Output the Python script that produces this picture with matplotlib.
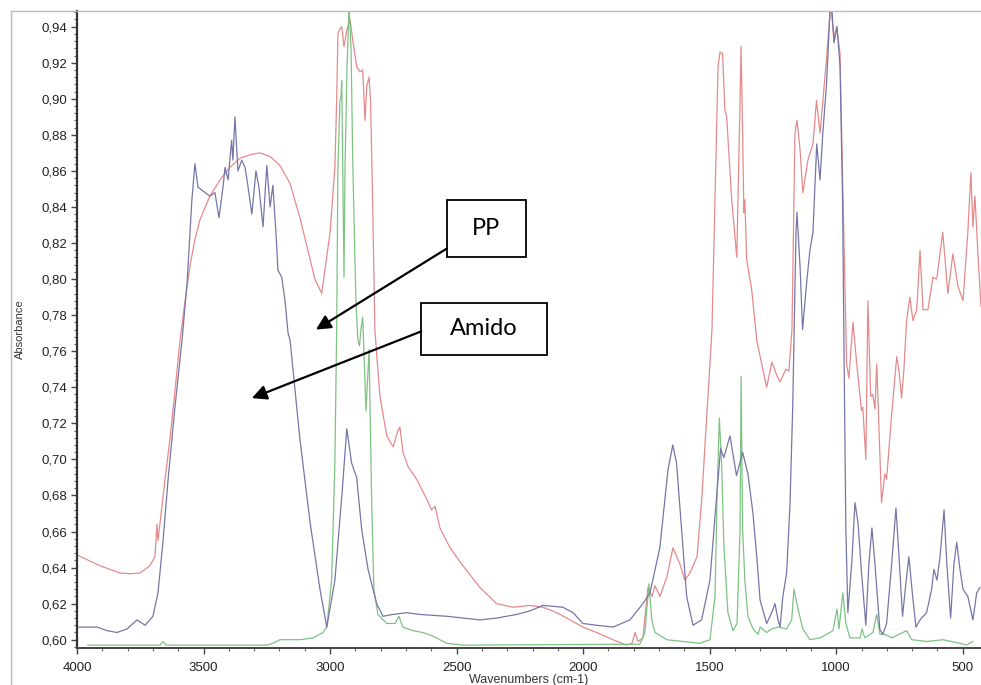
#!/usr/bin/env python3
"""FTIR absorbance spectra (starch / PP), redrawn from a screenshot of the
spectrometer software. Writes out.png."""

import matplotlib.pyplot as plt
from matplotlib.lines import Line2D
from matplotlib.patches import Rectangle
from matplotlib.ticker import FuncFormatter, MultipleLocator

# red trace
red_wn = [4000, 3909, 3830, 3791, 3751, 3712, 3692, 3684, 3680, 3652, 3633,
          3613, 3593, 3573, 3554, 3534, 3514, 3475, 3435, 3396, 3356, 3316,
          3277, 3237, 3198, 3158, 3119, 3079, 3060, 3033, 3000, 2981, 2974,
          2969, 2961, 2954, 2945, 2934, 2921, 2909, 2895, 2882, 2871, 2862,
          2855, 2846, 2840, 2832, 2823, 2803, 2776, 2751, 2732, 2724, 2712,
          2692, 2658, 2618, 2599, 2585, 2566, 2526, 2475, 2408, 2342, 2277,
          2210, 2159, 2105, 2052, 2001, 1947, 1882, 1828, 1807, 1795, 1783,
          1764, 1744, 1728, 1716, 1697, 1669, 1645, 1618, 1598, 1578, 1550,
          1531, 1511, 1491, 1479, 1467, 1459, 1449, 1440, 1433, 1413, 1393,
          1380, 1376, 1370, 1365, 1361, 1354, 1334, 1314, 1275, 1254, 1236,
          1222, 1199, 1187, 1175, 1163, 1155, 1143, 1132, 1112, 1092, 1078,
          1064, 1053, 1038, 1022, 1009, 998, 985, 973, 959, 950, 934, 919,
          900, 895, 883, 875, 864, 856, 847, 840, 831, 821, 808, 801, 781,
          761, 752, 742, 733, 722, 709, 697, 682, 669, 657, 638, 618, 603,
          579, 559, 539, 519, 499, 480, 468, 460, 452, 440, 428]
red_abs = [0.647, 0.641, 0.637, 0.6366, 0.637, 0.641, 0.646, 0.664, 0.655,
           0.689, 0.711, 0.738, 0.766, 0.788, 0.807, 0.822, 0.833, 0.846,
           0.855, 0.862, 0.867, 0.869, 0.870, 0.868, 0.863, 0.853, 0.834,
           0.811, 0.800, 0.792, 0.826, 0.862, 0.899, 0.936, 0.939, 0.940,
           0.929, 0.938, 0.944, 0.931, 0.918, 0.915, 0.916, 0.888, 0.907,
           0.912, 0.899, 0.844, 0.772, 0.735, 0.713, 0.707, 0.716, 0.718,
           0.704, 0.696, 0.689, 0.678, 0.672, 0.674, 0.662, 0.651, 0.641,
           0.629, 0.620, 0.618, 0.619, 0.618, 0.615, 0.611, 0.607, 0.604,
           0.600, 0.597, 0.598, 0.604, 0.599, 0.601, 0.629, 0.624, 0.630,
           0.624, 0.635, 0.651, 0.642, 0.633, 0.637, 0.646, 0.679, 0.725,
           0.772, 0.844, 0.918, 0.926, 0.925, 0.894, 0.890, 0.844, 0.812,
           0.899, 0.929, 0.881, 0.837, 0.844, 0.811, 0.794, 0.766, 0.740,
           0.754, 0.747, 0.743, 0.750, 0.749, 0.772, 0.881, 0.888, 0.872,
           0.848, 0.866, 0.875, 0.899, 0.881, 0.899, 0.923, 0.952, 0.934,
           0.940, 0.925, 0.844, 0.753, 0.745, 0.776, 0.753, 0.727, 0.729,
           0.700, 0.788, 0.735, 0.736, 0.728, 0.753, 0.716, 0.676, 0.692,
           0.689, 0.725, 0.757, 0.749, 0.734, 0.749, 0.777, 0.790, 0.777,
           0.783, 0.816, 0.783, 0.783, 0.801, 0.800, 0.826, 0.792, 0.814,
           0.796, 0.788, 0.826, 0.859, 0.829, 0.846, 0.814, 0.785]

# blue trace
blue_wn = [4000, 3961, 3921, 3881, 3842, 3802, 3763, 3731, 3700, 3680, 3660,
           3640, 3613, 3585, 3565, 3546, 3534, 3522, 3494, 3475, 3455, 3439,
           3423, 3415, 3403, 3389, 3384, 3376, 3364, 3349, 3336, 3324, 3309,
           3293, 3281, 3265, 3250, 3237, 3226, 3214, 3206, 3191, 3178, 3166,
           3158, 3119, 3079, 3040, 3013, 2981, 2954, 2934, 2915, 2895, 2875,
           2850, 2816, 2791, 2752, 2697, 2645, 2539, 2408, 2342, 2263, 2210,
           2159, 2080, 2040, 2001, 1947, 1882, 1815, 1764, 1736, 1697, 1665,
           1646, 1631, 1611, 1591, 1566, 1532, 1499, 1473, 1457, 1444, 1420,
           1394, 1370, 1349, 1329, 1314, 1301, 1275, 1255, 1242, 1230, 1222,
           1211, 1196, 1183, 1172, 1167, 1159, 1155, 1143, 1133, 1117, 1104,
           1092, 1077, 1064, 1053, 1038, 1025, 1018, 1009, 997, 985, 975, 970,
           962, 954, 939, 926, 914, 900, 883, 871, 859, 847, 828, 816, 801,
           781, 764, 752, 738, 725, 713, 698, 685, 669, 643, 623, 614, 602,
           590, 574, 563, 548, 535, 524, 511, 499, 480, 460, 445, 432]
blue_abs = [0.607, 0.607, 0.607, 0.605, 0.604, 0.606, 0.611, 0.608, 0.613,
            0.626, 0.655, 0.689, 0.729, 0.766, 0.798, 0.844, 0.864, 0.851,
            0.848, 0.846, 0.848, 0.834, 0.851, 0.862, 0.855, 0.877, 0.866,
            0.890, 0.860, 0.866, 0.862, 0.851, 0.836, 0.860, 0.851, 0.829,
            0.863, 0.840, 0.852, 0.826, 0.805, 0.801, 0.788, 0.770, 0.766,
            0.711, 0.665, 0.628, 0.607, 0.633, 0.679, 0.717, 0.698, 0.690,
            0.661, 0.639, 0.620, 0.613, 0.614, 0.615, 0.614, 0.613, 0.611,
            0.612, 0.614, 0.616, 0.619, 0.618, 0.615, 0.609, 0.608, 0.607,
            0.611, 0.620, 0.626, 0.651, 0.694, 0.708, 0.698, 0.661, 0.624,
            0.608, 0.611, 0.633, 0.679, 0.706, 0.701, 0.713, 0.691, 0.704,
            0.692, 0.670, 0.646, 0.622, 0.609, 0.615, 0.620, 0.611, 0.607,
            0.624, 0.637, 0.674, 0.729, 0.766, 0.826, 0.837, 0.807, 0.772,
            0.798, 0.816, 0.826, 0.875, 0.855, 0.881, 0.909, 0.948, 0.952,
            0.931, 0.940, 0.918, 0.844, 0.770, 0.661, 0.615, 0.642, 0.676,
            0.665, 0.637, 0.608, 0.642, 0.662, 0.642, 0.606, 0.603, 0.609,
            0.642, 0.673, 0.646, 0.613, 0.631, 0.646, 0.624, 0.607, 0.611,
            0.615, 0.628, 0.639, 0.633, 0.646, 0.672, 0.642, 0.612, 0.642,
            0.654, 0.639, 0.628, 0.624, 0.611, 0.626, 0.629]

# green trace
green_wn = [3957, 3751, 3672, 3660, 3648, 3384, 3249, 3226, 3198, 3119, 3067,
            3028, 3013, 2994, 2981, 2974, 2969, 2961, 2957, 2954, 2950, 2945,
            2941, 2933, 2925, 2917, 2910, 2898, 2890, 2884, 2878, 2871, 2858,
            2846, 2836, 2827, 2811, 2776, 2743, 2728, 2713, 2673, 2633, 2594,
            2539, 2475, 1776, 1756, 1740, 1729, 1716, 1669, 1539, 1499, 1479,
            1471, 1462, 1453, 1444, 1428, 1408, 1392, 1380, 1376, 1370, 1361,
            1349, 1329, 1309, 1301, 1275, 1255, 1230, 1196, 1176, 1167, 1151,
            1132, 1104, 1064, 1013, 997, 989, 974, 962, 946, 906, 898, 887,
            855, 840, 827, 808, 781, 722, 702, 643, 578, 511, 485, 460]
green_abs = [0.597, 0.597, 0.597, 0.599, 0.597, 0.597, 0.597, 0.598, 0.600,
             0.600, 0.601, 0.604, 0.607, 0.633, 0.698, 0.772, 0.862, 0.899,
             0.901, 0.910, 0.862, 0.801, 0.862, 0.918, 0.952, 0.927, 0.862,
             0.788, 0.766, 0.763, 0.772, 0.779, 0.727, 0.761, 0.679, 0.628,
             0.614, 0.609, 0.609, 0.613, 0.607, 0.605, 0.604, 0.602, 0.598,
             0.597, 0.5975, 0.604, 0.631, 0.611, 0.604, 0.600, 0.598, 0.600,
             0.624, 0.679, 0.723, 0.698, 0.652, 0.615, 0.605, 0.609, 0.661,
             0.746, 0.661, 0.633, 0.613, 0.606, 0.603, 0.607, 0.604, 0.606,
             0.607, 0.606, 0.611, 0.628, 0.617, 0.606, 0.600, 0.601, 0.605,
             0.617, 0.606, 0.626, 0.609, 0.601, 0.601, 0.606, 0.601, 0.604,
             0.614, 0.603, 0.603, 0.601, 0.605, 0.600, 0.599, 0.600, 0.598,
             0.597, 0.599]

RED = "#e58a8c"
BLUE = "#7676a8"
GREEN = "#7fc283"
TICK_FONT = "Liberation Sans"
BOX_FONT = "Lato"


def comma_fmt(v, _pos):
    return f"{v:.2f}".replace(".", ",")


def add_label_box(ax, x0, x1, y0, y1, text, start, tip):
    ax.add_patch(Rectangle((x0, y0), x1 - x0, y1 - y0, fill=False,
                           edgecolor="black", linewidth=1.3, zorder=5))
    ax.text((x0 + x1) / 2, (y0 + y1) / 2, text, ha="center", va="center",
            fontsize=17, family=BOX_FONT, zorder=6)
    ax.annotate("", xy=tip, xytext=start,
                arrowprops=dict(arrowstyle="-|>", color="black", lw=1.6,
                                mutation_scale=22, shrinkA=0, shrinkB=0),
                zorder=6)


def main():
    fig = plt.figure(figsize=(9.81, 6.85), dpi=100)
    ax = fig.add_axes([77 / 981, 37 / 685, 904 / 981, 637 / 685])

    ax.plot(red_wn, red_abs, color=RED, linewidth=0.9)
    ax.plot(green_wn, green_abs, color=GREEN, linewidth=0.9)
    ax.plot(blue_wn, blue_abs, color=BLUE, linewidth=0.9)

    ax.set_xlim(4000, 428)
    ax.set_ylim(0.5954, 0.9487)

    ax.xaxis.set_major_locator(MultipleLocator(500))
    ax.xaxis.set_minor_locator(MultipleLocator(100))
    ax.yaxis.set_major_locator(MultipleLocator(0.02))
    ax.yaxis.set_minor_locator(MultipleLocator(0.004))
    ax.yaxis.set_major_formatter(FuncFormatter(comma_fmt))

    ax.tick_params(axis="both", which="major", length=4, width=1,
                   color="#444444", labelsize=9.5, pad=3)
    ax.tick_params(axis="both", which="minor", length=2, width=0.8,
                   color="#666666")
    ax.tick_params(axis="x", pad=6)
    for lab in ax.get_xticklabels() + ax.get_yticklabels():
        lab.set_family(TICK_FONT)
        lab.set_color("#222222")

    ax.spines["right"].set_visible(False)
    ax.spines["top"].set_color("#bbbbbb")
    ax.spines["top"].set_linewidth(1.0)
    ax.spines["left"].set_color("#333333")
    ax.spines["left"].set_linewidth(1.6)
    ax.spines["bottom"].set_color("#444444")
    ax.spines["bottom"].set_linewidth(1.4)

    ax.set_ylabel("Absorbance", fontsize=8, family=TICK_FONT, labelpad=12,
                  color="#333333")
    ax.set_xlabel("Wavenumbers (cm-1)", fontsize=9, family=TICK_FONT,
                  labelpad=0, color="#333333")

    # outer window frame on the left
    fig.add_artist(Line2D([11 / 981, 11 / 981], [0, 674 / 685],
                          color="#bbbbbb", linewidth=1.0))
    fig.add_artist(Line2D([11 / 981, 77 / 981], [674 / 685, 674 / 685],
                          color="#bbbbbb", linewidth=1.0))

    add_label_box(ax, 2538, 2226, 0.812, 0.844, "PP",
                  start=(2538, 0.817), tip=(3056, 0.772))
    add_label_box(ax, 2640, 2142, 0.758, 0.787, "Amido",
                  start=(2640, 0.771), tip=(3309, 0.734))

    fig.savefig("out.png", dpi=100)
    plt.close(fig)


if __name__ == "__main__":
    main()
